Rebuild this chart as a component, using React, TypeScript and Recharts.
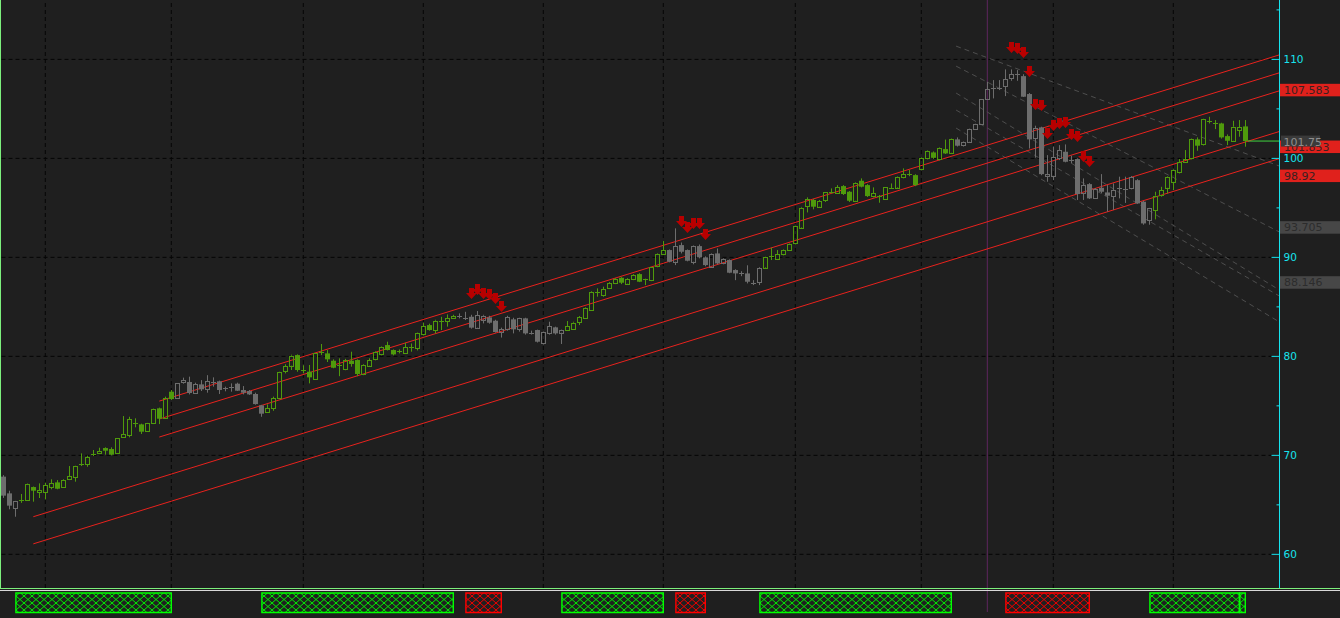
import React from "react";
import { ComposedChart, Bar, XAxis, YAxis, ReferenceLine, ReferenceArea } from "recharts";

// daily OHLC, oldest first
const opens = [
  67.85, 66.16, 64.65, 65.4, 65.49, 66.8, 66.26, 66.23, 66.74, 67.27,
  66.74, 67.58, 67.78, 69.02, 69.06, 70.05, 70.17, 70.74, 70.64, 70.2,
  71.82, 71.99, 73.2, 73.13, 72.42, 73.23, 74.75, 73.77, 76.43, 75.72,
  77.34, 77.41, 76.26, 77.17, 76.67, 77.38, 77.48, 76.85, 76.9, 77.24,
  76.6, 76.5, 76.2, 75.05, 74.31, 74.75, 75.72, 78.48, 79.06, 80.13,
  78.55, 78.45, 77.68, 80.4, 80.3, 79.56, 79.05, 78.69, 79.56, 79.63,
  78.18, 79.06, 79.7, 80.2, 81.14, 80.64, 80.47, 80.3, 80.9, 80.77,
  82.22, 83.16, 82.66, 83.6, 83.5, 83.84, 84.1, 83.84, 84.0, 82.9,
  83.74, 83.94, 83.6, 82.46, 82.73, 83.74, 82.76, 83.84, 82.39, 82.66,
  81.31, 82.32, 82.93, 82.39, 82.66, 82.76, 83.43, 83.84, 84.68, 86.46,
  86.2, 86.83, 87.37, 87.94, 87.34, 87.78, 88.31, 87.78, 87.64, 89.12,
  90.34, 90.74, 89.56, 91.24, 90.74, 89.56, 91.14, 90.0, 89.06, 90.4,
  89.39, 89.73, 88.72, 88.38, 88.38, 87.44, 87.44, 88.99, 90.07, 89.83,
  90.34, 90.74, 91.41, 93.03, 95.12, 95.8, 95.12, 95.72, 96.56, 96.46,
  97.2, 96.63, 95.72, 97.74, 97.3, 96.13, 96.23, 95.89, 97.03, 97.07,
  98.08, 98.42, 98.31, 98.89, 100.0, 100.6, 99.9, 100.94, 100.57, 101.92,
  101.28, 101.68, 102.93, 103.43, 105.96, 107.14, 107.14, 107.24, 108.08, 108.52,
  108.31, 106.5, 102.0, 103.13, 98.25, 98.15, 100.0, 100.67, 99.83, 99.93,
  96.46, 97.4, 95.96, 97.03, 96.56, 96.19, 96.97, 96.87, 96.97, 97.8,
  95.62, 93.7, 94.78, 96.26, 97.03, 97.64, 98.55, 99.6, 100.0, 101.92,
  101.41, 103.8, 103.6, 103.53, 102.25, 101.78, 102.86, 103.23,
];
const highs = [
  68.0, 66.43, 65.4, 66.1, 67.15, 66.85, 67.17, 67.24, 67.58, 67.5,
  67.58, 68.92, 68.95, 70.2, 69.97, 70.54, 70.77, 70.81, 70.81, 71.75,
  73.97, 73.9, 73.74, 73.2, 73.28, 74.72, 74.82, 75.93, 76.6, 77.3,
  77.85, 77.95, 77.34, 77.6, 78.1, 77.88, 77.55, 76.94, 77.27, 77.34,
  77.0, 76.6, 76.33, 75.1, 75.15, 75.93, 78.45, 79.2, 80.17, 80.2,
  79.1, 79.13, 80.32, 81.25, 80.64, 79.7, 79.8, 79.75, 80.47, 79.7,
  79.2, 79.8, 80.5, 81.0, 81.48, 80.7, 80.7, 81.38, 81.3, 82.4,
  83.4, 83.3, 83.7, 84.0, 84.24, 84.2, 84.34, 84.5, 84.2, 84.58,
  84.2, 84.1, 83.7, 82.9, 84.1, 83.9, 83.9, 83.9, 82.6, 82.7,
  82.5, 83.5, 83.0, 82.7, 83.57, 83.5, 84.07, 84.95, 86.6, 86.87,
  87.04, 87.5, 87.9, 88.0, 87.9, 88.3, 88.4, 87.85, 89.0, 90.4,
  91.65, 90.8, 92.93, 91.5, 90.8, 91.2, 91.3, 90.1, 90.4, 90.9,
  89.9, 89.8, 88.8, 88.6, 89.2, 87.7, 89.0, 90.1, 90.98, 90.74,
  90.8, 91.4, 93.2, 95.1, 96.06, 95.9, 95.8, 96.6, 96.97, 97.3,
  97.3, 96.7, 97.6, 97.98, 97.4, 97.07, 96.3, 97.1, 97.47, 98.2,
  98.99, 98.82, 98.4, 100.1, 100.8, 100.7, 101.1, 101.9, 102.0, 102.12,
  101.7, 103.0, 103.5, 106.0, 107.74, 107.91, 107.91, 108.99, 108.99, 108.92,
  108.5, 106.6, 103.3, 103.2, 100.33, 101.2, 101.34, 101.41, 100.27, 100.0,
  97.98, 97.5, 97.0, 98.41, 97.3, 97.47, 98.15, 98.15, 98.21, 97.9,
  95.7, 95.0, 96.63, 97.13, 98.21, 98.89, 99.93, 100.84, 102.0, 102.12,
  104.0, 104.2, 103.87, 103.6, 102.42, 103.8, 103.87, 103.87,
];
const lows = [
  65.7, 64.55, 63.8, 65.2, 65.4, 65.32, 65.69, 65.56, 66.57, 66.57,
  66.7, 67.5, 67.34, 68.92, 68.85, 69.93, 70.13, 70.07, 70.0, 70.17,
  71.78, 71.82, 72.83, 72.16, 72.38, 73.16, 73.16, 73.7, 75.6, 75.7,
  77.24, 76.16, 76.2, 76.5, 76.33, 76.94, 76.2, 76.47, 76.43, 76.5,
  76.16, 76.1, 75.12, 73.9, 74.28, 74.5, 75.7, 78.28, 78.62, 78.45,
  78.28, 77.27, 77.61, 80.13, 79.43, 78.8, 78.0, 78.6, 78.96, 78.0,
  78.1, 79.0, 79.6, 80.1, 80.6, 80.1, 80.3, 80.24, 80.47, 80.6,
  82.1, 82.6, 82.32, 82.66, 83.0, 83.8, 83.84, 83.67, 82.8, 82.8,
  83.33, 83.3, 82.4, 81.9, 82.6, 82.32, 82.5, 82.2, 82.2, 81.4,
  81.2, 82.2, 82.2, 81.25, 82.56, 82.7, 83.16, 83.8, 84.6, 86.03,
  86.03, 86.8, 87.3, 87.3, 87.3, 87.7, 87.5, 87.2, 87.6, 89.0,
  90.23, 89.5, 89.22, 90.4, 89.6, 89.3, 89.9, 89.1, 89.0, 89.3,
  89.3, 88.4, 87.7, 88.1, 87.37, 87.2, 87.2, 88.9, 89.73, 89.73,
  90.2, 90.7, 91.3, 92.9, 94.54, 94.85, 95.0, 95.6, 96.46, 96.4,
  96.3, 95.6, 95.6, 97.07, 96.1, 96.06, 95.52, 95.8, 96.97, 97.0,
  97.98, 98.2, 97.2, 98.8, 99.9, 99.95, 99.8, 100.44, 100.5, 101.2,
  101.2, 101.6, 102.9, 103.4, 105.9, 106.06, 106.9, 106.29, 107.84, 107.84,
  106.2, 101.0, 100.07, 98.3, 97.64, 97.8, 99.83, 99.6, 99.5, 95.8,
  95.8, 95.9, 95.9, 96.46, 94.61, 94.78, 95.96, 95.5, 96.87, 95.4,
  93.3, 93.3, 93.84, 96.13, 96.46, 96.8, 98.48, 99.55, 99.9, 100.77,
  101.3, 103.53, 102.96, 102.0, 101.34, 101.75, 102.19, 101.18,
];
const closes = [
  65.93, 64.92, 65.35, 65.5, 67.1, 66.43, 66.47, 66.97, 67.17, 66.63,
  67.47, 67.88, 68.92, 69.1, 69.8, 70.1, 70.4, 70.47, 70.07, 71.72,
  72.12, 73.64, 73.25, 72.39, 73.23, 74.68, 73.7, 75.76, 75.69, 77.27,
  77.58, 76.3, 77.17, 76.67, 77.48, 77.4, 76.6, 76.84, 76.92, 76.53,
  76.33, 76.16, 75.18, 74.21, 74.75, 75.76, 78.38, 79.02, 80.07, 78.62,
  78.6, 77.88, 80.3, 80.45, 79.7, 78.85, 79.1, 79.63, 79.23, 78.22,
  79.12, 79.63, 80.4, 80.9, 80.64, 80.2, 80.5, 80.9, 80.92, 82.32,
  83.06, 82.66, 83.6, 83.62, 83.84, 84.07, 84.05, 83.86, 82.9, 84.17,
  84.1, 83.4, 82.46, 82.73, 83.97, 82.73, 83.84, 82.32, 82.4, 81.48,
  82.42, 83.06, 82.32, 82.66, 83.06, 83.4, 83.94, 84.85, 86.53, 86.5,
  86.77, 87.37, 87.81, 87.44, 87.81, 88.21, 87.54, 87.76, 88.99, 90.3,
  90.74, 89.56, 91.14, 90.57, 89.66, 91.14, 90.0, 89.22, 90.34, 89.39,
  89.8, 88.45, 88.38, 88.4, 87.54, 87.46, 88.89, 90.07, 90.09, 90.3,
  90.74, 91.35, 93.16, 95.02, 95.86, 95.12, 95.69, 96.56, 96.58, 97.07,
  96.4, 95.72, 97.54, 97.14, 96.19, 96.46, 96.25, 97.07, 97.05, 98.15,
  98.38, 98.44, 97.3, 100.0, 100.74, 100.06, 101.01, 100.5, 101.95, 101.28,
  101.61, 102.96, 103.46, 105.99, 106.97, 107.16, 107.12, 107.98, 108.52, 108.54,
  106.23, 101.92, 103.03, 98.41, 98.41, 100.1, 100.84, 99.66, 99.85, 96.4,
  97.3, 95.96, 96.9, 96.63, 96.23, 96.8, 96.99, 96.89, 98.08, 95.45,
  93.43, 94.95, 96.23, 96.77, 98.15, 98.82, 99.6, 99.93, 101.95, 101.28,
  103.94, 103.82, 103.58, 102.12, 101.78, 103.2, 103.13, 101.75,
];

// indicator state per bar range (first, last)
const trendZones = [[3, 28], [44, 75], [94, 110], [127, 158], [192, 206], [207, 207]];
const signalZones = [[78, 83], [113, 117], [168, 181]];

// first bar of each month
const monthStarts = [7, 28, 50, 70, 90, 110, 132, 153, 175, 195];
const priceTicks = [60, 65, 70, 75, 80, 85, 90, 95, 100, 105, 110, 115];
const gridPrices = [60, 70, 80, 90, 100, 110];

// channels: [bar, price, bar, price]
const channelLines = [
  [26, 75.48, 212.7, 110.46],
  [26, 73.67, 212.7, 108.65],
  [26, 71.85, 212.7, 106.83],
  [5, 63.8, 212.7, 102.72],
  [5, 61.06, 212.7, 99.98],
];
const fanLines = [
  [158.8, 111.34, 212.7, 99.22],
  [158.8, 109.32, 212.7, 92.56],
  [158.8, 106.6, 212.7, 86.7],
  [158.8, 104.88, 212.7, 86.09],
  [158.8, 103.06, 212.7, 83.47],
];
const redTags = [107.583, 98.92, 101.853];
const greyTags = [93.705, 88.146];
const markerBar = 164;

const BG = "#1f1f1f";
const CYAN = "#17e3ee";
const GREEN = "#4f9a0c";
const GREY = "#6d6d6d";
const RED = "#e8221d";
const FONT = "DejaVu Sans, sans-serif";
const X_MIN = -0.55;
const X_MAX = 212.7;

const inZones = (i: number, zones: number[][]) => zones.some(([a, b]) => i >= a && i <= b);

const candles = opens.map((open, i) => ({
  i,
  open,
  high: highs[i],
  low: lows[i],
  close: closes[i],
  up: inZones(i, trendZones),
  signal: inZones(i, signalZones),
}));
const lastIdx = candles.length - 1;
const lastClose = closes[lastIdx];

function Candle(props: any) {
  const { x, y, width, height, payload } = props;
  if (!payload || x == null || y == null) return null;
  const { open, close, high, low, up, signal } = payload;
  const top = Math.min(y, y + height);
  const h = Math.abs(height);
  const k = high > low ? h / (high - low) : 0;
  const py = (p: number) => top + (high - p) * k;
  const cx = Math.round(x + width / 2);
  const color = up ? GREEN : GREY;
  const bTop = py(Math.max(open, close));
  const bBot = py(Math.min(open, close));
  const yHi = top;
  const yLo = top + h;
  const wx = cx + 0.5;
  let body;
  if (bBot - bTop < 1.2) {
    const yy = Math.round(bTop) + 0.5;
    body = (
      <>
        <line x1={wx} x2={wx} y1={yHi} y2={yLo} stroke={color} />
        <line x1={cx - 2} x2={cx + 3} y1={yy} y2={yy} stroke={color} />
      </>
    );
  } else if (close > open) {
    body = (
      <>
        <line x1={wx} x2={wx} y1={yHi} y2={bTop} stroke={color} />
        <line x1={wx} x2={wx} y1={bBot} y2={yLo} stroke={color} />
        <rect x={cx - 1.5} y={Math.round(bTop) + 0.5} width={4} height={Math.max(1, Math.round(bBot - bTop))} fill="none" stroke={color} />
      </>
    );
  } else {
    body = (
      <>
        <line x1={wx} x2={wx} y1={yHi} y2={yLo} stroke={color} />
        <rect x={cx - 2} y={bTop} width={5} height={bBot - bTop} fill={color} />
      </>
    );
  }
  let arrow = null;
  if (signal) {
    const tip = Math.round(yHi - 16);
    const t = tip - 11;
    arrow = (
      <path
        d={`M${cx - 2},${t} L${cx + 3},${t} L${cx + 3},${t + 5} L${cx + 6},${t + 5} L${cx + 0.5},${tip} L${cx - 5},${t + 5} L${cx - 2},${t + 5} Z`}
        fill="#b80000"
      />
    );
  }
  return (
    <g>
      {body}
      {arrow}
    </g>
  );
}

function PriceTick(props: any) {
  const { x, y, payload } = props;
  const major = payload.value % 10 === 0;
  return (
    <g>
      <line x1={x - (major ? 8 : 3)} x2={x} y1={y} y2={y} stroke={CYAN} />
      {major && (
        <text x={x + 4} y={y + 4} fill={CYAN} fontSize={10.5} fontFamily={FONT}>
          {payload.value}
        </text>
      )}
    </g>
  );
}

function TagBox(props: any) {
  const { viewBox, text, fill, color } = props;
  if (!viewBox) return null;
  const left = viewBox.x + viewBox.width + 0.5;
  const top = viewBox.y + 0.5;
  return (
    <g>
      <rect x={left} y={top} width={62} height={12.5} fill={fill} />
      <text x={left + 4} y={top + 10.2} fill={color} fontSize={11} fontFamily={FONT}>
        {text}
      </text>
    </g>
  );
}

function LastTag(props: any) {
  const { viewBox, text } = props;
  if (!viewBox) return null;
  const left = viewBox.x + viewBox.width + 1.5;
  const mid = viewBox.y;
  return (
    <g>
      <rect x={left} y={mid - 5.5} width={39} height={11} fill="#3a3a3a" />
      <text x={left + 2.5} y={mid + 5} fill="#8e8e8e" fontSize={11} fontFamily={FONT}>
        {text}
      </text>
    </g>
  );
}

export default function App() {
  return (
    <div style={{ position: "absolute", left: 0, top: 0, width: 1340, height: 618, background: BG, overflow: "hidden" }}>
      <svg width={0} height={0} style={{ position: "absolute" }}>
        <defs>
          <pattern id="hatchGreen" width={8} height={7} patternUnits="userSpaceOnUse">
            <path d="M0,0 L8,7 M8,0 L0,7" stroke="#00ee00" strokeWidth={1} />
          </pattern>
          <pattern id="hatchRed" width={8} height={7} patternUnits="userSpaceOnUse">
            <path d="M0,0 L8,7 M8,0 L0,7" stroke="#ee0000" strokeWidth={1} />
          </pattern>
        </defs>
      </svg>

      <div style={{ position: "absolute", left: 0, top: 0 }}>
        <ComposedChart width={1340} height={588} data={candles} margin={{ top: 0, right: 0, bottom: 0, left: 0 }}>
          <XAxis dataKey="i" type="number" domain={[X_MIN, X_MAX]} allowDataOverflow hide />
          <YAxis
            orientation="right"
            width={60.5}
            type="number"
            domain={[56.6, 116]}
            allowDataOverflow
            ticks={priceTicks}
            interval={0}
            tickSize={0}
            tickMargin={0}
            tickLine={false}
            axisLine={{ stroke: CYAN }}
            tick={(p: any) => <PriceTick {...p} />}
          />
          {gridPrices.map((p) => (
            <ReferenceLine key={"gy" + p} y={p} stroke="#050505" strokeDasharray="4 3" zIndex={-100} />
          ))}
          {monthStarts.map((m) => (
            <ReferenceLine key={"gx" + m} x={m} stroke="#050505" strokeDasharray="4 3" zIndex={-100} />
          ))}
          <ReferenceLine x={markerBar} stroke="#5e265e" zIndex={-50} />
          {fanLines.map((l, k) => (
            <ReferenceLine
              key={"f" + k}
              segment={[{ x: l[0], y: l[1] }, { x: l[2], y: l[3] }]}
              stroke="#4e4e4e"
              strokeDasharray="5 4"
              ifOverflow="visible"
              zIndex={-40}
            />
          ))}
          {channelLines.map((l, k) => (
            <ReferenceLine
              key={"c" + k}
              segment={[{ x: l[0], y: l[1] }, { x: l[2], y: l[3] }]}
              stroke={RED}
              ifOverflow="visible"
              zIndex={-30}
            />
          ))}
          <Bar
            dataKey={(d: any) => [d.low, d.high]}
            barSize={5}
            isAnimationActive={false}
            shape={(p: any) => <Candle {...p} />}
          />
          <ReferenceLine
            segment={[{ x: lastIdx + 0.45, y: lastClose }, { x: X_MAX, y: lastClose }]}
            stroke="#3fd23f"
            ifOverflow="visible"
          />
          {redTags.map((v) => (
            <ReferenceLine
              key={"r" + v}
              y={v}
              stroke="none"
              ifOverflow="visible"
              label={<TagBox text={String(v)} fill="#e0211c" color="#3a2020" />}
            />
          ))}
          {greyTags.map((v) => (
            <ReferenceLine
              key={"g" + v}
              y={v}
              stroke="none"
              ifOverflow="visible"
              label={<TagBox text={String(v)} fill="#474747" color="#2c2c2c" />}
            />
          ))}
          <ReferenceLine
            y={lastClose}
            stroke="none"
            ifOverflow="visible"
            label={<LastTag text={String(lastClose)} />}
          />
        </ComposedChart>
      </div>

      <div style={{ position: "absolute", left: 0, top: 589 }}>
        <ComposedChart width={1340} height={29} data={candles} margin={{ top: 0, right: 60.5, bottom: 0, left: 0 }}>
          <XAxis
            dataKey="i"
            type="number"
            domain={[X_MIN, X_MAX]}
            allowDataOverflow
            ticks={monthStarts}
            interval={0}
            height={6}
            tickSize={6}
            tick={false}
            axisLine={false}
            tickLine={{ stroke: "#e4e4e4" }}
          />
          <YAxis hide type="number" domain={[0, 23]} allowDataOverflow />
          {trendZones.map(([a, b]) => (
            <ReferenceArea
              key={"tz" + a}
              x1={a - 0.9}
              x2={b}
              y1={-0.5}
              y2={19}
              ifOverflow="visible"
              fill="url(#hatchGreen)"
              fillOpacity={1}
              stroke="#00ff00"
              strokeWidth={1.4}
            />
          ))}
          {signalZones.map(([a, b]) => (
            <ReferenceArea
              key={"sz" + a}
              x1={a - 0.9}
              x2={b}
              y1={-0.5}
              y2={19}
              ifOverflow="visible"
              fill="url(#hatchRed)"
              fillOpacity={1}
              stroke="#ff0000"
              strokeWidth={1.4}
            />
          ))}
          <ReferenceLine x={markerBar} stroke="#5e265e" />
        </ComposedChart>
      </div>

      <div style={{ position: "absolute", left: 0, top: 0, width: 1, height: 588, background: "#7cf07c" }} />
      <div style={{ position: "absolute", left: 0, top: 588, width: 1340, height: 1, background: "#7cf07c" }} />
      <div style={{ position: "absolute", left: 0, top: 590, width: 1340, height: 1, background: "#d8d8d8" }} />
    </div>
  );
}
